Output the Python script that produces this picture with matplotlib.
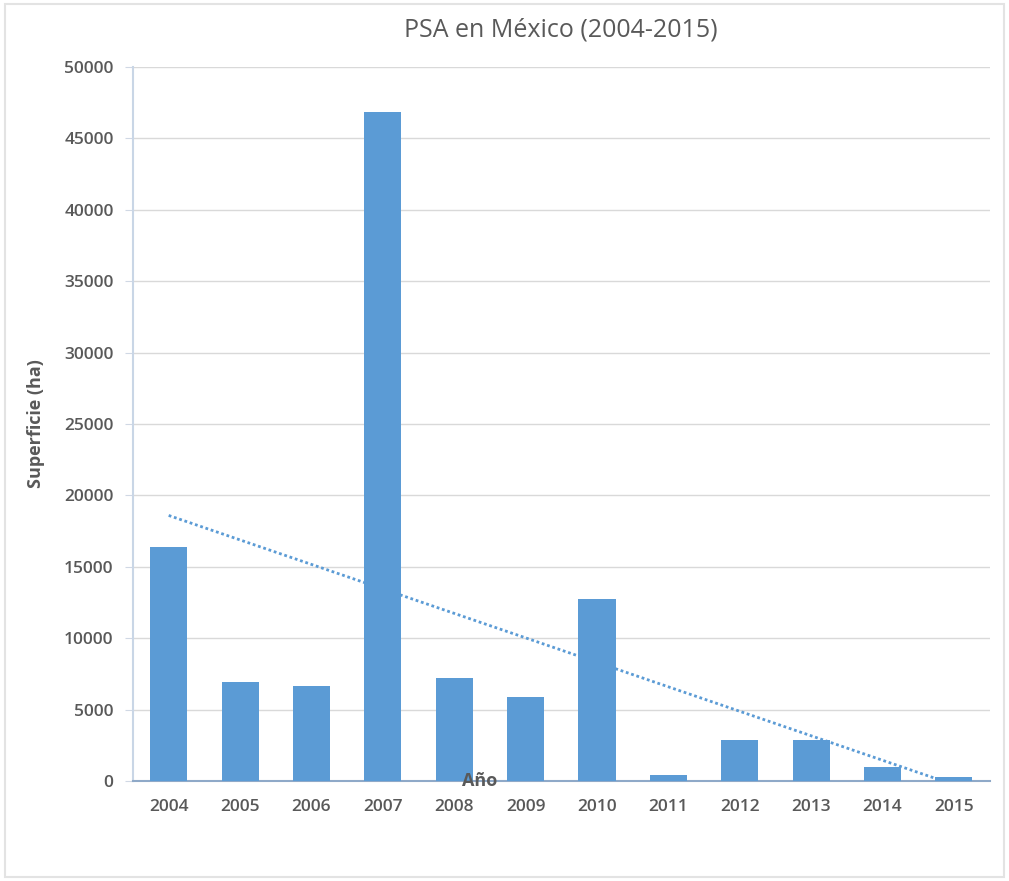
import numpy as np
from matplotlib import pyplot as plt
from matplotlib.patches import Rectangle

years = ["2004", "2005", "2006", "2007", "2008", "2009",
         "2010", "2011", "2012", "2013", "2014", "2015"]
superficie = [16400, 6900, 6650, 46850, 7200, 5850,
              12750, 400, 2850, 2850, 1000, 300]
yticks = [0, 5000, 10000, 15000, 20000, 25000, 30000, 35000, 40000, 45000, 50000]

plt.rcParams['font.family'] = ['Open Sans', 'DejaVu Sans']
gray = "#595959"
blue = "#5B9BD5"

fig = plt.figure(figsize=(10.09, 8.81), dpi=100)
ax = fig.add_axes([0.1318, 0.1135, 0.849, 0.8105])

x = np.arange(len(years))
ax.bar(x, superficie, 0.52, color=blue, zorder=3)

# linear trend line
m, b = np.polyfit(x, superficie, 1)
ax.plot(x, m * x + b, linestyle=(0, (1, 1)), color=blue, linewidth=2, zorder=4)

ax.set_xlim(-0.5, len(years) - 0.5)
ax.set_ylim(0, 50000)
ax.set_xticks(x)
ax.set_xticklabels(years, fontsize=12.5, color=gray, fontweight='semibold')
ax.set_yticks(yticks)
ax.set_yticklabels([str(t) for t in yticks], fontsize=12.5, color=gray, fontweight='semibold')
ax.tick_params(axis='x', length=0, pad=13)
ax.tick_params(axis='y', length=6, color="#D0D8E4", pad=8)

ax.grid(axis='y', color="#D9D9D9", linewidth=1, zorder=0)
for s in ["top", "right"]:
    ax.spines[s].set_visible(False)
ax.spines["left"].set_color("#C9D6E6")
ax.spines["left"].set_linewidth(1.5)
ax.spines["bottom"].set_color("#8FA9C8")
ax.spines["bottom"].set_linewidth(1.5)

ax.set_title("PSA en México (2004-2015)", fontsize=18, color=gray, pad=22)
ax.set_ylabel("Superficie (ha)", fontsize=13, color=gray, fontweight='bold', labelpad=14)
ax.text(0.405, 0.0, "Año", transform=ax.transAxes, fontsize=13, color=gray,
        fontweight='bold', ha='center', va='center', zorder=5)

fig.patches.append(Rectangle((0.005, 0.005), 0.99, 0.99, transform=fig.transFigure,
                             fill=False, edgecolor="#E3E3E3", linewidth=1.5))

fig.savefig("out.png", dpi=100)
